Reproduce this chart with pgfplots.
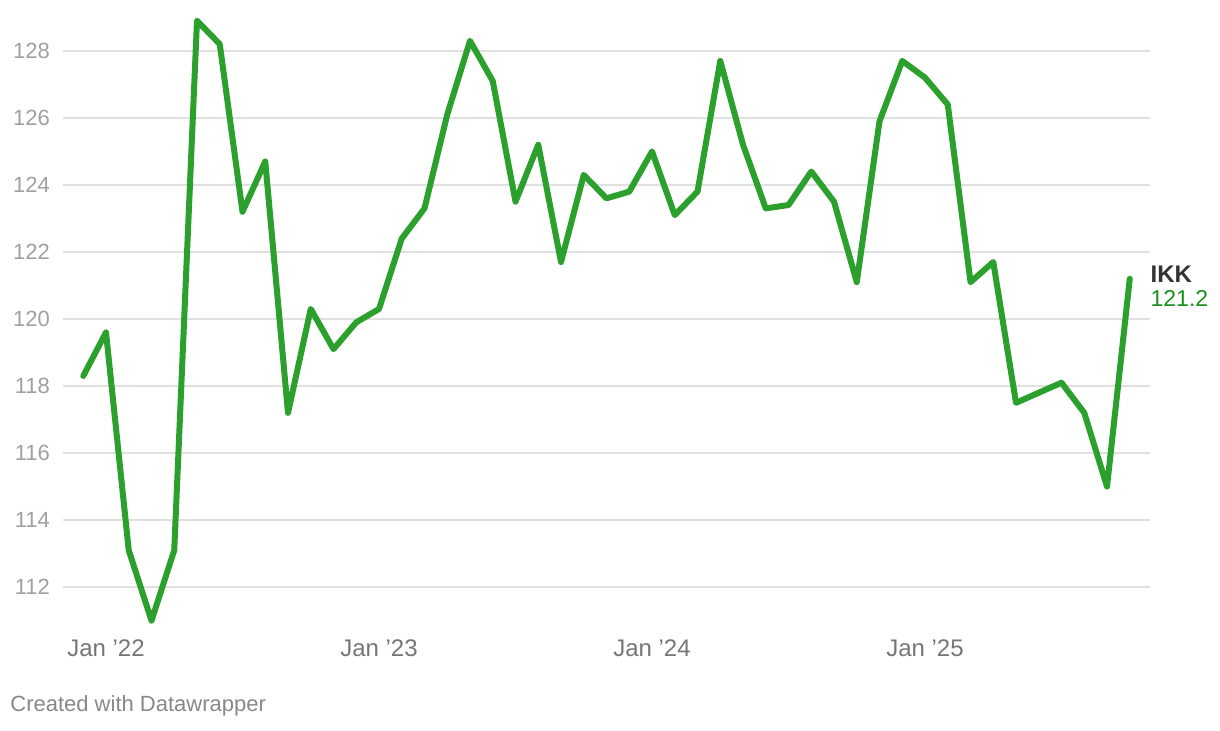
\documentclass[border=0pt]{standalone}
\usepackage{pgfplots}
\pgfplotsset{compat=1.18}
\usepackage{fontspec}
\setmainfont{Liberation Sans}
\definecolor{linegreen}{RGB}{44,160,44}
\definecolor{valgreen}{RGB}{24,145,30}
\definecolor{gridgray}{RGB}{224,224,224}
\definecolor{ytickgray}{RGB}{160,160,160}
\definecolor{xtickgray}{RGB}{118,118,118}
\definecolor{labeldark}{RGB}{51,51,51}
\definecolor{creditgray}{RGB}{136,136,136}
\begin{document}
\begin{tikzpicture}
\begin{axis}[
  at={(0,0)}, anchor=south west,
  scale only axis,
  width=543.5pt, height=305pt,
  xmin=-1.89, xmax=45.89,
  ymin=110.87, ymax=129.07,
  axis line style={draw=none},
  clip=false,
  ytick={112,114,116,118,120,122,124,126,128},
  xtick={0,12,24,36},
  xticklabels={Jan ’22,Jan ’23,Jan ’24,Jan ’25},
  ymajorgrids=true,
  major grid style={gridgray, line width=0.75pt},
  major tick length=0pt,
  tick style={draw=none},
  /pgf/number format/assume math mode=true,
  yticklabel style={font=\fontsize{11}{13}\selectfont, text=ytickgray, anchor=east, xshift=-3pt},
  xticklabel style={font=\fontsize{12}{14}\selectfont, text=xtickgray, anchor=north, yshift=-4pt},
]
\addplot[linegreen, line width=3pt, line join=round, line cap=round] coordinates {
(-1,118.3) (0,119.6) (1,113.1) (2,111.0) (3,113.1) (4,128.9) (5,128.2) (6,123.2)
(7,124.7) (8,117.2) (9,120.3) (10,119.1) (11,119.9) (12,120.3) (13,122.4) (14,123.3)
(15,126.1) (16,128.3) (17,127.1) (18,123.5) (19,125.2) (20,121.7) (21,124.3) (22,123.6)
(23,123.8) (24,125.0) (25,123.1) (26,123.8) (27,127.7) (28,125.2) (29,123.3) (30,123.4)
(31,124.4) (32,123.5) (33,121.1) (34,125.9) (35,127.7) (36,127.2) (37,126.4) (38,121.1)
(39,121.7) (40,117.5) (42,118.1) (43,117.2) (44,115.0) (45,121.2)
};
\node[anchor=west, inner sep=0pt, text=labeldark, font=\bfseries\fontsize{12}{14}\selectfont] at (axis cs:45.9,121.35) {IKK};
\node[anchor=west, inner sep=0pt, text=valgreen, font=\fontsize{11.5}{14}\selectfont] at (axis cs:45.9,120.62) {121.2};
\end{axis}
\node[anchor=west, inner sep=0pt, text=creditgray, font=\fontsize{11}{13}\selectfont] at (-26.5pt,-40.5pt) {Created with Datawrapper};
\path[use as bounding box] (-31.5pt,-52.5pt) rectangle (578.5pt,312.5pt);
\end{tikzpicture}
\end{document}
